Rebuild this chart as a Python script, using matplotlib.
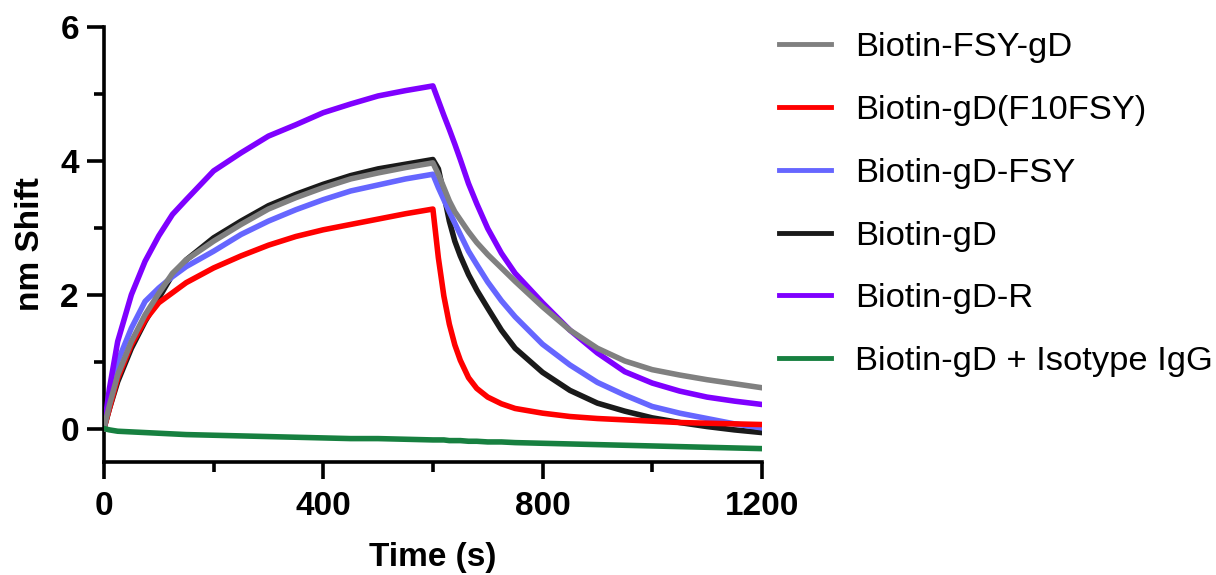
import numpy as np
import matplotlib
matplotlib.use('Agg')
import matplotlib.pyplot as plt
from matplotlib.ticker import MultipleLocator

plt.rcParams['font.family'] = ['Liberation Sans', 'DejaVu Sans']

# Tiempos de lectura (s): asociacion 0-600, disociacion 600-1200
t_assoc = [0, 10, 25, 50, 75, 100, 125, 150, 200, 250, 300, 350, 400, 450, 500, 550, 600]
t_dissoc = [610, 620, 630, 640, 650, 665, 680, 700, 725, 750, 800, 850, 900, 950,
            1000, 1050, 1100, 1150, 1200]

labels = ['Biotin-FSY-gD', 'Biotin-gD(F10FSY)', 'Biotin-gD-FSY', 'Biotin-gD',
          'Biotin-gD-R', 'Biotin-gD + Isotype IgG']

fsy_gd_assoc = [0, 0.35, 0.8, 1.3, 1.7, 2.02, 2.32, 2.52, 2.8, 3.05, 3.28, 3.45, 3.6, 3.73, 3.82, 3.9, 3.97]
fsy_gd_dissoc = [3.8, 3.6, 3.4, 3.24, 3.12, 2.94, 2.78, 2.6, 2.4, 2.2, 1.82, 1.47, 1.2, 1.01,
                 0.88, 0.8, 0.73, 0.67, 0.61]

f10_assoc = [0, 0.3, 0.75, 1.25, 1.62, 1.88, 2.03, 2.18, 2.4, 2.58, 2.74, 2.87, 2.97, 3.05, 3.13, 3.21, 3.28]
f10_dissoc = [2.55, 1.98, 1.56, 1.25, 1.02, 0.76, 0.6, 0.47, 0.37, 0.3, 0.23, 0.18, 0.15, 0.13,
              0.11, 0.09, 0.08, 0.07, 0.06]

gd_fsy_assoc = [0, 0.45, 1.0, 1.5, 1.9, 2.1, 2.27, 2.42, 2.65, 2.9, 3.1, 3.27, 3.42, 3.55, 3.64, 3.73, 3.8]
gd_fsy_dissoc = [3.6, 3.42, 3.24, 3.07, 2.9, 2.65, 2.45, 2.19, 1.91, 1.67, 1.26, 0.95, 0.69, 0.5,
                 0.33, 0.23, 0.15, 0.07, 0.01]

gd_assoc = [0, 0.3, 0.7, 1.2, 1.6, 1.95, 2.3, 2.52, 2.85, 3.1, 3.33, 3.5, 3.65, 3.78, 3.88, 3.95, 4.02]
gd_dissoc = [3.88, 3.5, 3.1, 2.8, 2.58, 2.3, 2.07, 1.8, 1.47, 1.2, 0.84, 0.57, 0.38, 0.26,
             0.16, 0.09, 0.03, -0.02, -0.06]

gd_r_assoc = [0, 0.6, 1.3, 2.0, 2.5, 2.88, 3.2, 3.42, 3.85, 4.12, 4.37, 4.54, 4.72, 4.85, 4.97, 5.05, 5.12]
gd_r_dissoc = [4.9, 4.68, 4.47, 4.25, 4.02, 3.66, 3.36, 2.99, 2.62, 2.32, 1.88, 1.47, 1.13, 0.85,
               0.68, 0.56, 0.47, 0.41, 0.36]

igg_assoc = [0, -0.02, -0.04, -0.05, -0.06, -0.07, -0.08, -0.09, -0.1, -0.11, -0.12, -0.13, -0.14, -0.15, -0.15, -0.16, -0.17]
igg_dissoc = [-0.17, -0.17, -0.18, -0.18, -0.18, -0.19, -0.19, -0.2, -0.2, -0.21, -0.22, -0.23, -0.24, -0.25,
              -0.26, -0.27, -0.28, -0.29, -0.3]

colors = ['#808080', '#ff0000', '#6666ff', '#1a1a1a', '#7f00ff', '#178040']

series = [fsy_gd_assoc + fsy_gd_dissoc, f10_assoc + f10_dissoc, gd_fsy_assoc + gd_fsy_dissoc,
          gd_assoc + gd_dissoc, gd_r_assoc + gd_r_dissoc, igg_assoc + igg_dissoc]
t_all = t_assoc + t_dissoc

fig = plt.figure(figsize=(12.16, 5.75), dpi=100)
ax = fig.add_axes([0.0855, 0.1965, 0.541, 0.7565])

# orden de dibujo (el gris queda encima del negro)
zorders = [6, 4, 3, 2, 5, 7]
lines = {}
for lab, y, c, z in zip(labels, series, colors, zorders):
    ln, = ax.plot(t_all, y, color=c, lw=4, zorder=z, solid_joinstyle='round')
    lines[lab] = ln

ax.set_xlim(0, 1200)
ax.set_ylim(-0.5, 6)
ax.set_xticks([0, 400, 800, 1200])
ax.set_yticks([0, 2, 4, 6])
ax.xaxis.set_minor_locator(MultipleLocator(200))
ax.set_yticks([1, 3, 5], minor=True)

for s in ['top', 'right']:
    ax.spines[s].set_visible(False)
for s in ['left', 'bottom']:
    ax.spines[s].set_linewidth(2.6)

ax.tick_params(which='major', length=12, width=2.6, direction='out', labelsize=24, pad=6)
ax.tick_params(which='minor', length=7, width=2.6, direction='out')
ax.tick_params(axis='x', which='major', pad=9)
for lab in ax.get_xticklabels() + ax.get_yticklabels():
    lab.set_fontweight('bold')

ax.set_xlabel('Time (s)', fontsize=24, fontweight='bold', labelpad=14)
ax.set_ylabel('nm Shift', fontsize=24, fontweight='bold', labelpad=10)

handles = [lines[l] for l in labels]
leg = ax.legend(handles, labels, loc='upper left', bbox_to_anchor=(1.005, 1.02),
                frameon=False, fontsize=24.8, handlelength=1.5, handletextpad=0.7,
                labelspacing=0.92, borderaxespad=0)
for h in leg.get_lines():
    h.set_linewidth(3.5)

fig.savefig('out.png', dpi=100)
